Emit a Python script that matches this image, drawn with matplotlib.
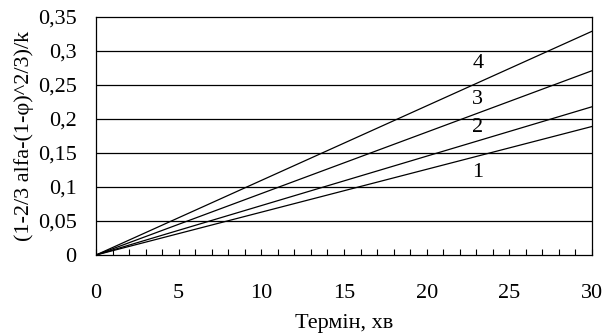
import matplotlib.pyplot as plt
from matplotlib.ticker import MultipleLocator, FuncFormatter

# Data: straight lines from the origin
x = [0, 30]
line1 = [0, 0.189]
line2 = [0, 0.218]
line3 = [0, 0.271]
line4 = [0, 0.329]
labels = ["1", "2", "3", "4"]
label_x = [23.1, 23.1, 23.1, 23.1]
label_y = [0.121, 0.187, 0.229, 0.282]

plt.rcParams['font.family'] = ['Liberation Serif', 'DejaVu Serif']
fs = 16

fig = plt.figure(figsize=(6.05, 3.36), dpi=100)
ax = fig.add_axes([96 / 605, 1 - 255 / 336, 496 / 605, 238 / 336])

# horizontal grid lines
for yv in [0.05, 0.1, 0.15, 0.2, 0.25, 0.3]:
    ax.axhline(yv, color='black', lw=0.9, zorder=1)

for ys in [line1, line2, line3, line4]:
    ax.plot(x, ys, color='black', lw=0.9, zorder=2)

for t, lx, ly in zip(labels, label_x, label_y):
    ax.text(lx, ly, t, fontsize=fs, ha='center', va='center')

ax.set_xlim(0, 30)
ax.set_ylim(0, 0.35)
ax.xaxis.set_major_locator(MultipleLocator(5))
ax.xaxis.set_minor_locator(MultipleLocator(1))
ax.yaxis.set_major_locator(MultipleLocator(0.05))
ax.yaxis.set_major_formatter(FuncFormatter(lambda v, p: ('%g' % round(v, 2)).replace('.', ',')))

ax.tick_params(axis='x', which='both', direction='in', length=4, width=0.8, pad=21, labelsize=fs)
ax.tick_params(axis='y', length=0, pad=14, labelsize=fs)
for s in ax.spines.values():
    s.set_linewidth(0.9)

ax.set_xlabel("Термін, хв", fontsize=fs, labelpad=8)
ax.set_ylabel("(1-2/3 alfa-(1-φ)^2/3)/k", fontsize=fs, labelpad=3)

fig.savefig("out.png", dpi=100)
